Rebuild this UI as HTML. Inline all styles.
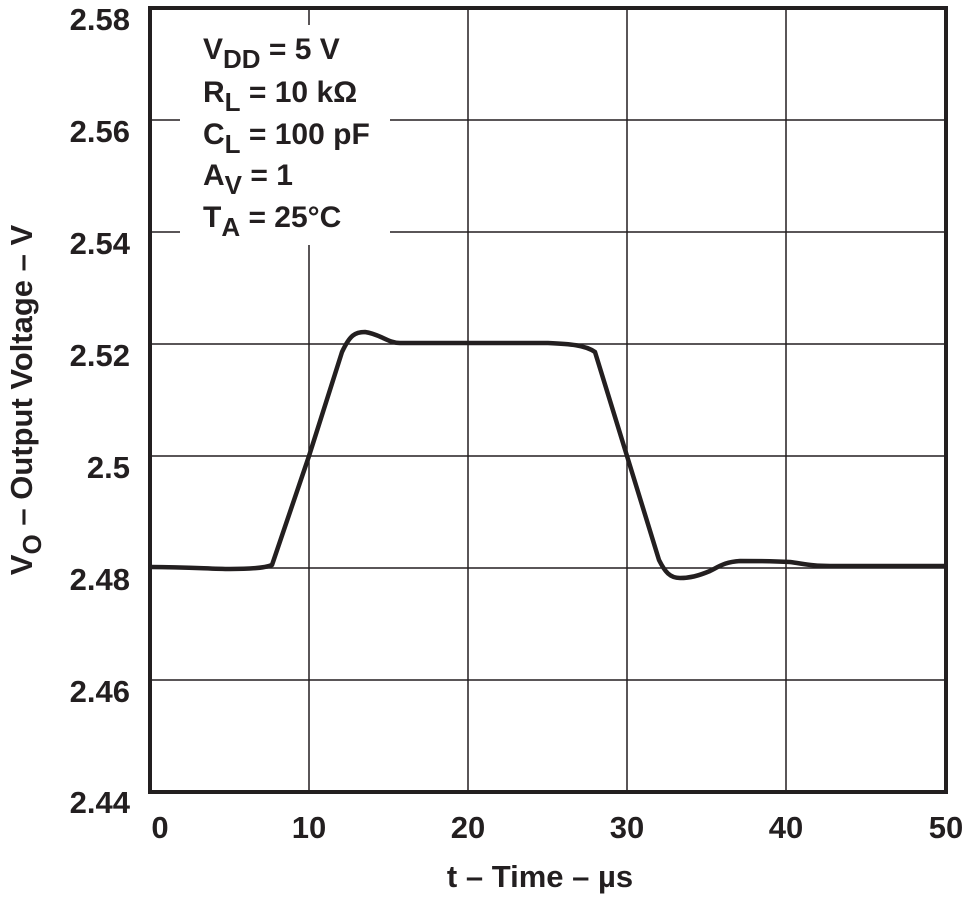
<!DOCTYPE html>
<html><head><style>
body{margin:0;background:#fff;}
text{font-family:"Liberation Sans",Arial,sans-serif;font-weight:bold;fill:#231f20;}
</style></head><body>
<svg width="963" height="895" xmlns="http://www.w3.org/2000/svg">
<g stroke="#231f20" stroke-width="1.5" fill="none">
<line x1="309" y1="8" x2="309" y2="792"/>
<line x1="468" y1="8" x2="468" y2="792"/>
<line x1="627" y1="8" x2="627" y2="792"/>
<line x1="786" y1="8" x2="786" y2="792"/>
<line x1="150" y1="120" x2="946" y2="120"/>
<line x1="150" y1="232" x2="946" y2="232"/>
<line x1="150" y1="344" x2="946" y2="344"/>
<line x1="150" y1="456" x2="946" y2="456"/>
<line x1="150" y1="568" x2="946" y2="568"/>
<line x1="150" y1="680" x2="946" y2="680"/>
</g>
<rect x="180" y="25" width="210" height="220" fill="#fff"/>
<rect x="150" y="8" width="796" height="784" fill="none" stroke="#231f20" stroke-width="4"/>
<path d="M150,567 C190,567 210,569 230,569 C250,569 265,568 272,565 L309,456 L342,352 C350,335 355,332 365,332 C380,334 388,343 400,343 L548,343 C570,344 585,345 595,352 L627,456 L659,560 C665,572 670,578 680,578 C690,578 698,576 710,571 C720,566 725,562 740,561 C760,561 770,561 790,562 C805,564 812,566 830,566 L946,566" fill="none" stroke="#231f20" stroke-width="4.5" stroke-linejoin="round"/>
<g font-size="31" text-anchor="end">
<text x="130" y="30">2.58</text>
<text x="130" y="142">2.56</text>
<text x="130" y="254">2.54</text>
<text x="130" y="366">2.52</text>
<text x="130" y="478">2.5</text>
<text x="130" y="590">2.48</text>
<text x="130" y="702">2.46</text>
<text x="130" y="813">2.44</text>
</g>
<g font-size="31" text-anchor="middle">
<text x="160" y="838">0</text>
<text x="309" y="838">10</text>
<text x="468" y="838">20</text>
<text x="627" y="838">30</text>
<text x="786" y="838">40</text>
<text x="946" y="838">50</text>
<text x="540" y="887">t – Time – µs</text>
</g>
<text font-size="31" transform="translate(32,400) rotate(-90)" text-anchor="middle">V<tspan font-size="26" dy="9">O</tspan><tspan dy="-9"> – Output Voltage – V</tspan></text>
<g font-size="30">
<text x="203" y="59">V<tspan font-size="26" dy="9">DD</tspan><tspan dy="-9"> = 5 V</tspan></text>
<text x="203" y="102">R<tspan font-size="26" dy="9">L</tspan><tspan dy="-9"> = 10 kΩ</tspan></text>
<text x="203" y="144">C<tspan font-size="26" dy="9">L</tspan><tspan dy="-9"> = 100 pF</tspan></text>
<text x="203" y="185">A<tspan font-size="26" dy="9">V</tspan><tspan dy="-9"> = 1</tspan></text>
<text x="203" y="227">T<tspan font-size="26" dy="9">A</tspan><tspan dy="-9"> = 25°C</tspan></text>
</g>
</svg>
</body></html>
